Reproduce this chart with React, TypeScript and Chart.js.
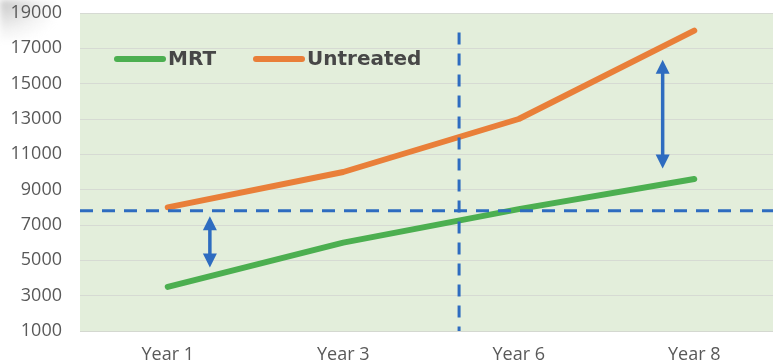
import { useEffect, useRef } from 'react';
import { Chart, registerables } from 'chart.js';

Chart.register(...registerables);

// Categories and series
const categories = ['Year 1', 'Year 3', 'Year 6', 'Year 8'];
const mrtValues = [3500, 6000, 7900, 9600];
const untreatedValues = [8000, 10000, 13000, 18000];
const seriesLabels = ['MRT', 'Untreated'];

// Value axis
const yMin = 1000;
const yMax = 19000;
const yStep = 2000;

// Reference lines: horizontal threshold and vertical divider (category position)
const thresholdValue = 7800;
const dividerPosition = 1.66;
const dividerTopValue = 17900;

// Double-headed gap arrows: [category position, top value, bottom value]
const arrowPositions = [0.24, 2.82];
const arrowTops = [7500, 16350];
const arrowBottoms = [4600, 10200];

const GREEN = '#4CAF50';
const ORANGE = '#E97F39';
const BLUE = '#2E6CC0';

export default function App() {
  const canvasRef = useRef<HTMLCanvasElement>(null);

  useEffect(() => {
    const canvas = canvasRef.current;
    if (!canvas) return;

    const plotBackground = {
      id: 'plotBackground',
      beforeDraw(chart: any) {
        const { ctx, chartArea } = chart;
        ctx.save();
        ctx.fillStyle = '#E3EEDB';
        ctx.fillRect(chartArea.left, chartArea.top, chartArea.right - chartArea.left, chartArea.bottom - chartArea.top);
        ctx.restore();
      },
    };

    const overlays = {
      id: 'overlays',
      afterDatasetsDraw(chart: any) {
        const { ctx, chartArea, scales } = chart;
        const x = scales.x;
        const y = scales.y;
        ctx.save();
        ctx.strokeStyle = BLUE;
        ctx.fillStyle = BLUE;
        ctx.lineWidth = 3;
        ctx.lineCap = 'butt';

        // threshold line
        ctx.setLineDash([13, 9]);
        const ty = y.getPixelForValue(thresholdValue);
        ctx.beginPath();
        ctx.moveTo(chartArea.left, ty);
        ctx.lineTo(chartArea.right, ty);
        ctx.stroke();

        // divider line
        const dx = x.getPixelForValue(dividerPosition);
        ctx.setLineDash([12, 9]);
        ctx.beginPath();
        ctx.moveTo(dx, y.getPixelForValue(dividerTopValue));
        ctx.lineTo(dx, chartArea.bottom);
        ctx.stroke();
        ctx.setLineDash([]);

        // gap arrows
        const headLen = 14;
        const headHalf = 7;
        ctx.lineWidth = 3.5;
        arrowPositions.forEach((pos, i) => {
          const ax = x.getPixelForValue(pos);
          const top = y.getPixelForValue(arrowTops[i]);
          const bottom = y.getPixelForValue(arrowBottoms[i]);
          ctx.beginPath();
          ctx.moveTo(ax, top + headLen - 1);
          ctx.lineTo(ax, bottom - headLen + 1);
          ctx.stroke();
          ctx.beginPath();
          ctx.moveTo(ax, top);
          ctx.lineTo(ax - headHalf, top + headLen);
          ctx.lineTo(ax + headHalf, top + headLen);
          ctx.closePath();
          ctx.fill();
          ctx.beginPath();
          ctx.moveTo(ax, bottom);
          ctx.lineTo(ax - headHalf, bottom - headLen);
          ctx.lineTo(ax + headHalf, bottom - headLen);
          ctx.closePath();
          ctx.fill();
        });

        // legend inside the plot
        const ly = chartArea.top + 46;
        const entries = [
          { x: chartArea.left + 37, color: GREEN, label: chart.data.datasets[0].label },
          { x: chartArea.left + 176, color: ORANGE, label: chart.data.datasets[1].label },
        ];
        ctx.lineCap = 'round';
        ctx.lineWidth = 6;
        ctx.font = 'bold 20px "DejaVu Sans"';
        ctx.textBaseline = 'middle';
        ctx.textAlign = 'left';
        entries.forEach((e) => {
          ctx.strokeStyle = e.color;
          ctx.beginPath();
          ctx.moveTo(e.x, ly);
          ctx.lineTo(e.x + 46, ly);
          ctx.stroke();
          ctx.fillStyle = '#474747';
          ctx.fillText(e.label, e.x + 51, ly + 1);
        });
        ctx.restore();
      },
    };

    const chart = new Chart(canvas, {
      type: 'line',
      data: {
        labels: categories,
        datasets: [
          {
            label: seriesLabels[0],
            data: mrtValues,
            borderColor: GREEN,
            backgroundColor: GREEN,
            borderWidth: 6,
            borderCapStyle: 'round',
            borderJoinStyle: 'round',
            pointRadius: 0,
            tension: 0,
          },
          {
            label: seriesLabels[1],
            data: untreatedValues,
            borderColor: ORANGE,
            backgroundColor: ORANGE,
            borderWidth: 6,
            borderCapStyle: 'round',
            borderJoinStyle: 'round',
            pointRadius: 0,
            tension: 0,
          },
        ],
      },
      options: {
        animation: false,
        responsive: false,
        maintainAspectRatio: false,
        layout: { padding: { top: 13, right: 8, bottom: 0, left: 0 } },
        plugins: {
          legend: { display: false },
          tooltip: { enabled: false },
        },
        scales: {
          x: {
            type: 'category',
            offset: true,
            grid: { display: false, drawTicks: false },
            border: { display: true, color: '#D4D8D0', width: 1 },
            ticks: {
              color: '#595959',
              font: { family: '"Open Sans"', size: 18 },
              padding: 13,
              maxRotation: 0,
            },
            afterFit(scale: any) {
              scale.height = 32;
              scale.paddingLeft = 0;
              scale.paddingRight = 0;
            },
          },
          y: {
            min: yMin,
            max: yMax,
            grid: { color: '#D6DAD3', lineWidth: 1, drawTicks: false },
            border: { display: false },
            ticks: {
              stepSize: yStep,
              color: '#595959',
              font: { family: '"Open Sans"', size: 18 },
              padding: 18,
              callback: (v: any) => String(v),
            },
            afterFit(scale: any) {
              scale.width = 80;
              scale.paddingTop = 0;
              scale.paddingBottom = 0;
            },
          },
        },
      },
      plugins: [plotBackground, overlays],
    });

    return () => chart.destroy();
  }, []);

  return (
    <div
      style={{
        position: 'fixed',
        left: 0,
        top: 0,
        width: 773,
        height: 363,
        overflow: 'hidden',
        background: '#ffffff',
      }}
    >
      <div
        style={{
          position: 'absolute',
          left: 0,
          top: 0,
          width: 56,
          height: 40,
          background: 'radial-gradient(ellipse at 0% 0%, rgba(150,150,150,0.55), rgba(200,200,200,0.2) 55%, rgba(255,255,255,0) 80%)',
          filter: 'blur(3px)',
        }}
      />
      <canvas
        ref={canvasRef}
        width={790}
        height={363}
        style={{ position: 'absolute', left: 0, top: 0, width: 790, height: 363 }}
      />
    </div>
  );
}
